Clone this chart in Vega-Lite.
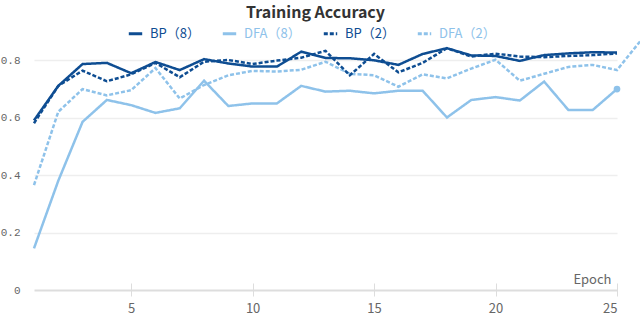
{
  "$schema": "https://vega.github.io/schema/vega-lite/v6.json",
  "width": 583,
  "height": 230,
  "autosize": {"type": "none"},
  "padding": {"left": 34, "top": 60, "right": 23, "bottom": 26},
  "background": "white",
  "title": {
    "text": "Training Accuracy",
    "anchor": "middle",
    "frame": "group",
    "dx": -10,
    "offset": 4,
    "font": "Noto Sans CJK SC",
    "fontSize": 16,
    "fontWeight": "bold",
    "color": "#333333"
  },
  "config": {
    "view": {"stroke": null},
    "font": "Noto Sans CJK SC"
  },
  "data": {
    "values": [
      {"epoch": 1, "series": "DFA（8）", "acc": 0.145},
      {"epoch": 2, "series": "DFA（8）", "acc": 0.38},
      {"epoch": 3, "series": "DFA（8）", "acc": 0.585},
      {"epoch": 4, "series": "DFA（8）", "acc": 0.661},
      {"epoch": 5, "series": "DFA（8）", "acc": 0.643},
      {"epoch": 6, "series": "DFA（8）", "acc": 0.616},
      {"epoch": 7, "series": "DFA（8）", "acc": 0.632},
      {"epoch": 8, "series": "DFA（8）", "acc": 0.728},
      {"epoch": 9, "series": "DFA（8）", "acc": 0.64},
      {"epoch": 10, "series": "DFA（8）", "acc": 0.649},
      {"epoch": 11, "series": "DFA（8）", "acc": 0.649},
      {"epoch": 12, "series": "DFA（8）", "acc": 0.71},
      {"epoch": 13, "series": "DFA（8）", "acc": 0.69},
      {"epoch": 14, "series": "DFA（8）", "acc": 0.693},
      {"epoch": 15, "series": "DFA（8）", "acc": 0.684},
      {"epoch": 16, "series": "DFA（8）", "acc": 0.693},
      {"epoch": 17, "series": "DFA（8）", "acc": 0.693},
      {"epoch": 18, "series": "DFA（8）", "acc": 0.6},
      {"epoch": 19, "series": "DFA（8）", "acc": 0.661},
      {"epoch": 20, "series": "DFA（8）", "acc": 0.671},
      {"epoch": 21, "series": "DFA（8）", "acc": 0.659},
      {"epoch": 22, "series": "DFA（8）", "acc": 0.725},
      {"epoch": 23, "series": "DFA（8）", "acc": 0.626},
      {"epoch": 24, "series": "DFA（8）", "acc": 0.626},
      {"epoch": 25, "series": "DFA（8）", "acc": 0.699},
      {"epoch": 1, "series": "DFA（2）", "acc": 0.365},
      {"epoch": 2, "series": "DFA（2）", "acc": 0.62},
      {"epoch": 3, "series": "DFA（2）", "acc": 0.699},
      {"epoch": 4, "series": "DFA（2）", "acc": 0.677},
      {"epoch": 5, "series": "DFA（2）", "acc": 0.695},
      {"epoch": 6, "series": "DFA（2）", "acc": 0.772},
      {"epoch": 7, "series": "DFA（2）", "acc": 0.666},
      {"epoch": 8, "series": "DFA（2）", "acc": 0.713},
      {"epoch": 9, "series": "DFA（2）", "acc": 0.747},
      {"epoch": 10, "series": "DFA（2）", "acc": 0.762},
      {"epoch": 11, "series": "DFA（2）", "acc": 0.76},
      {"epoch": 12, "series": "DFA（2）", "acc": 0.766},
      {"epoch": 13, "series": "DFA（2）", "acc": 0.794},
      {"epoch": 14, "series": "DFA（2）", "acc": 0.752},
      {"epoch": 15, "series": "DFA（2）", "acc": 0.747},
      {"epoch": 16, "series": "DFA（2）", "acc": 0.707},
      {"epoch": 17, "series": "DFA（2）", "acc": 0.75},
      {"epoch": 18, "series": "DFA（2）", "acc": 0.736},
      {"epoch": 19, "series": "DFA（2）", "acc": 0.77},
      {"epoch": 20, "series": "DFA（2）", "acc": 0.801},
      {"epoch": 21, "series": "DFA（2）", "acc": 0.728},
      {"epoch": 22, "series": "DFA（2）", "acc": 0.752},
      {"epoch": 23, "series": "DFA（2）", "acc": 0.776},
      {"epoch": 24, "series": "DFA（2）", "acc": 0.783},
      {"epoch": 25, "series": "DFA（2）", "acc": 0.765},
      {"epoch": 26, "series": "DFA（2）", "acc": 0.87},
      {"epoch": 1, "series": "BP（2）", "acc": 0.58},
      {"epoch": 2, "series": "BP（2）", "acc": 0.71},
      {"epoch": 3, "series": "BP（2）", "acc": 0.763},
      {"epoch": 4, "series": "BP（2）", "acc": 0.726},
      {"epoch": 5, "series": "BP（2）", "acc": 0.75},
      {"epoch": 6, "series": "BP（2）", "acc": 0.79},
      {"epoch": 7, "series": "BP（2）", "acc": 0.74},
      {"epoch": 8, "series": "BP（2）", "acc": 0.794},
      {"epoch": 9, "series": "BP（2）", "acc": 0.8},
      {"epoch": 10, "series": "BP（2）", "acc": 0.786},
      {"epoch": 11, "series": "BP（2）", "acc": 0.798},
      {"epoch": 12, "series": "BP（2）", "acc": 0.808},
      {"epoch": 13, "series": "BP（2）", "acc": 0.832},
      {"epoch": 14, "series": "BP（2）", "acc": 0.747},
      {"epoch": 15, "series": "BP（2）", "acc": 0.821},
      {"epoch": 16, "series": "BP（2）", "acc": 0.757},
      {"epoch": 17, "series": "BP（2）", "acc": 0.79},
      {"epoch": 18, "series": "BP（2）", "acc": 0.841},
      {"epoch": 19, "series": "BP（2）", "acc": 0.812},
      {"epoch": 20, "series": "BP（2）", "acc": 0.822},
      {"epoch": 21, "series": "BP（2）", "acc": 0.812},
      {"epoch": 22, "series": "BP（2）", "acc": 0.81},
      {"epoch": 23, "series": "BP（2）", "acc": 0.814},
      {"epoch": 24, "series": "BP（2）", "acc": 0.817},
      {"epoch": 25, "series": "BP（2）", "acc": 0.823},
      {"epoch": 1, "series": "BP（8）", "acc": 0.59},
      {"epoch": 2, "series": "BP（8）", "acc": 0.71},
      {"epoch": 3, "series": "BP（8）", "acc": 0.786},
      {"epoch": 4, "series": "BP（8）", "acc": 0.79},
      {"epoch": 5, "series": "BP（8）", "acc": 0.754},
      {"epoch": 6, "series": "BP（8）", "acc": 0.793},
      {"epoch": 7, "series": "BP（8）", "acc": 0.765},
      {"epoch": 8, "series": "BP（8）", "acc": 0.803},
      {"epoch": 9, "series": "BP（8）", "acc": 0.788},
      {"epoch": 10, "series": "BP（8）", "acc": 0.777},
      {"epoch": 11, "series": "BP（8）", "acc": 0.777},
      {"epoch": 12, "series": "BP（8）", "acc": 0.829},
      {"epoch": 13, "series": "BP（8）", "acc": 0.807},
      {"epoch": 14, "series": "BP（8）", "acc": 0.806},
      {"epoch": 15, "series": "BP（8）", "acc": 0.799},
      {"epoch": 16, "series": "BP（8）", "acc": 0.783},
      {"epoch": 17, "series": "BP（8）", "acc": 0.821},
      {"epoch": 18, "series": "BP（8）", "acc": 0.841},
      {"epoch": 19, "series": "BP（8）", "acc": 0.816},
      {"epoch": 20, "series": "BP（8）", "acc": 0.814},
      {"epoch": 21, "series": "BP（8）", "acc": 0.797},
      {"epoch": 22, "series": "BP（8）", "acc": 0.817},
      {"epoch": 23, "series": "BP（8）", "acc": 0.823},
      {"epoch": 24, "series": "BP（8）", "acc": 0.827},
      {"epoch": 25, "series": "BP（8）", "acc": 0.826}
    ]
  },
  "layer": [
    {
      "mark": {"type": "line", "strokeWidth": 2.5, "clip": false},
      "encoding": {
        "x": {
          "field": "epoch",
          "type": "quantitative",
          "scale": {"domain": [1, 25], "nice": false, "zero": false},
          "axis": {
            "values": [5, 10, 15, 20, 25],
            "title": "Epoch",
            "titleAnchor": "end",
            "titleAlign": "right",
            "titleBaseline": "alphabetic",
            "titleX": 577,
            "titleY": 0,
            "titleFont": "Noto Sans CJK SC",
            "titleFontSize": 13,
            "titleFontWeight": "normal",
            "titleColor": "#666666",
            "domain": false,
            "grid": false,
            "offset": -7,
            "tickSize": 13,
            "tickColor": "#dddddd",
            "tickWidth": 1,
            "labelPadding": 6,
            "labelFont": "Noto Sans CJK SC",
            "labelFontSize": 13,
            "labelColor": "#666666"
          }
        },
        "y": {
          "field": "acc",
          "type": "quantitative",
          "scale": {"domain": [0, 0.8], "nice": false},
          "axis": {
            "values": [0, 0.2, 0.4, 0.6, 0.8],
            "format": "~g",
            "title": null,
            "domain": false,
            "ticks": false,
            "labelPadding": 14,
            "labelFont": "Liberation Mono",
            "labelFontSize": 11,
            "labelColor": "#666666",
            "gridColor": {"condition": {"test": "datum.value === 0", "value": "#dddddd"}, "value": "#eeeeee"},
            "gridWidth": {"condition": {"test": "datum.value === 0", "value": 2}, "value": 1.5}
          }
        },
        "color": {
          "field": "series",
          "type": "nominal",
          "scale": {
            "domain": ["BP（8）", "DFA（8）", "BP（2）", "DFA（2）"],
            "range": ["#0e4d92", "#8ec2ea", "#0e4d92", "#8ec2ea"]
          },
          "legend": {
            "title": null,
            "orient": "none",
            "legendX": 93,
            "legendY": -35,
            "direction": "horizontal",
            "columns": 4,
            "columnPadding": 16,
            "padding": 0,
            "symbolType": "stroke",
            "symbolSize": 180,
            "symbolStrokeWidth": 3,
            "labelOffset": 6,
            "labelFont": "Noto Sans CJK SC",
            "labelFontSize": 13,
            "encode": {
              "labels": {"update": {"fill": {"scale": "color", "field": "value"}}}
            }
          }
        },
        "strokeDash": {
          "field": "series",
          "type": "nominal",
          "scale": {
            "domain": ["BP（8）", "DFA（8）", "BP（2）", "DFA（2）"],
            "range": [[1, 0], [1, 0], [4, 2], [4, 2]]
          },
          "legend": {
            "title": null,
            "orient": "none",
            "legendX": 93,
            "legendY": -35,
            "direction": "horizontal",
            "columns": 4,
            "columnPadding": 16,
            "padding": 0,
            "symbolType": "stroke",
            "symbolSize": 180,
            "symbolStrokeWidth": 3,
            "labelOffset": 6,
            "labelFont": "Noto Sans CJK SC",
            "labelFontSize": 13,
            "encode": {
              "labels": {"update": {"fill": {"scale": "color", "field": "value"}}}
            }
          }
        }
      }
    },
    {
      "transform": [
        {"filter": "datum.series === 'DFA（8）' && datum.epoch === 25"}
      ],
      "mark": {"type": "point", "filled": true, "size": 45, "color": "#8ec2ea", "opacity": 1},
      "encoding": {
        "x": {"field": "epoch", "type": "quantitative"},
        "y": {"field": "acc", "type": "quantitative"}
      }
    }
  ]
}
